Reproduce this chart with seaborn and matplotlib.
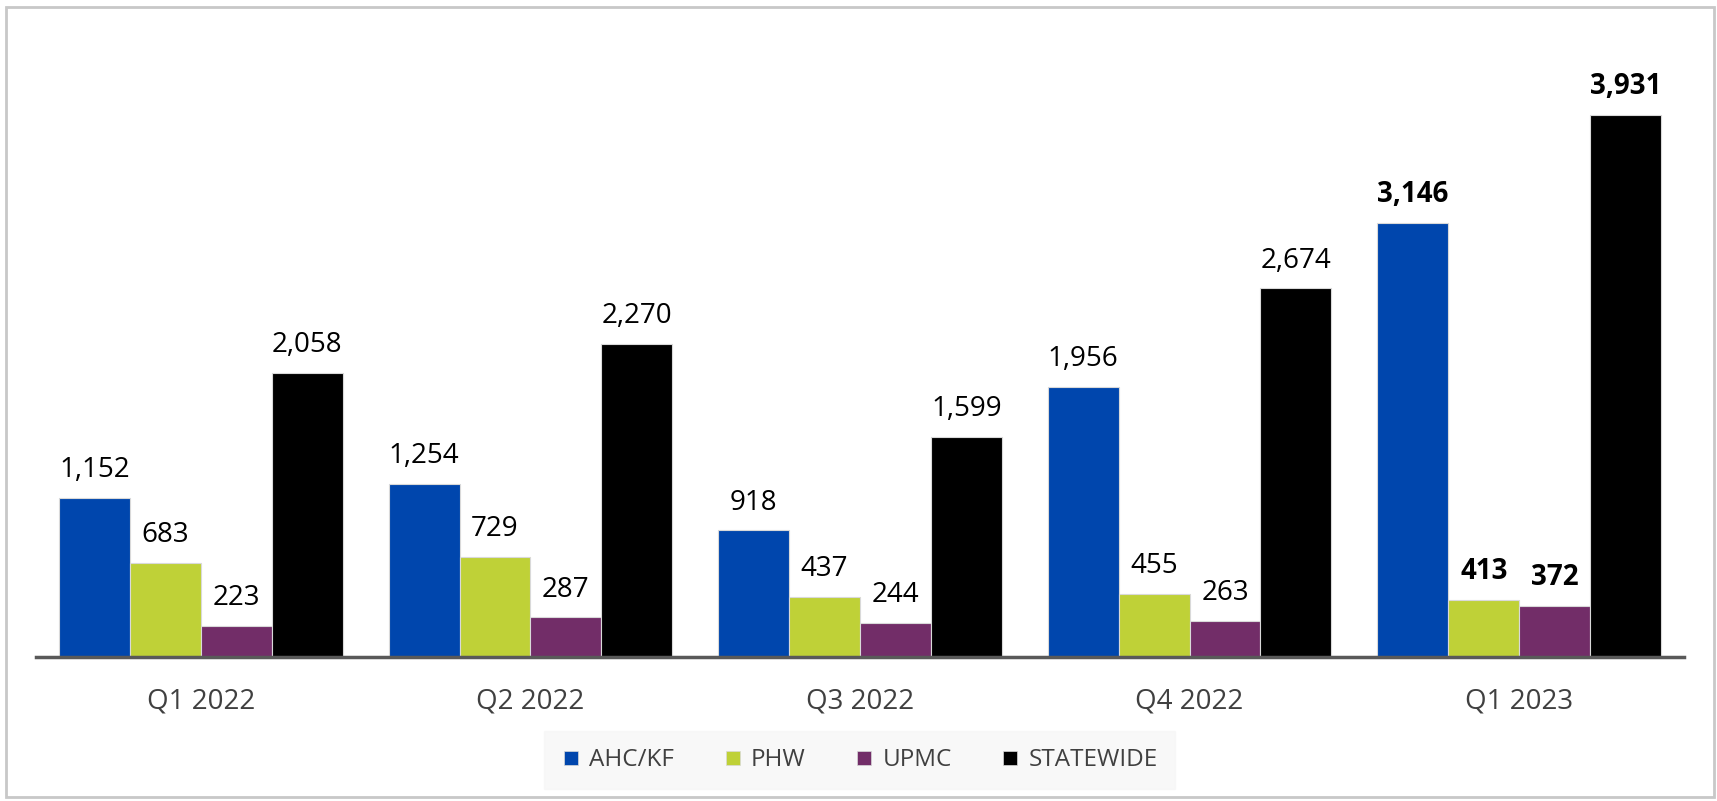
import matplotlib
matplotlib.use("Agg")
import matplotlib.pyplot as plt
import seaborn as sns
import pandas as pd
from matplotlib.patches import Rectangle
from matplotlib.lines import Line2D

quarters = ["Q1 2022", "Q2 2022", "Q3 2022", "Q4 2022", "Q1 2023"]
series = ["AHC/KF", "PHW", "UPMC", "STATEWIDE"]
ahc = [1152, 1254, 918, 1956, 3146]
phw = [683, 729, 437, 455, 413]
upmc = [223, 287, 244, 263, 372]
statewide = [2058, 2270, 1599, 2674, 3931]
colors = ["#0046AD", "#BFD137", "#722D68", "#000000"]

rows = []
for name, vals in zip(series, [ahc, phw, upmc, statewide]):
    for q, v in zip(quarters, vals):
        rows.append({"Quarter": q, "Plan": name, "Value": v})
df = pd.DataFrame(rows)

sns.set_theme(style="white")
plt.rcParams["font.family"] = ["Open Sans", "DejaVu Sans"]

fig = plt.figure(figsize=(17.17, 8.01), dpi=100)
ax = fig.add_axes([36/1717, 1-657/801, (1684-36)/1717, 0.74])

sns.barplot(data=df, x="Quarter", y="Value", hue="Plan", order=quarters,
            hue_order=series, palette=colors, width=0.86, ax=ax,
            edgecolor="#d9d9d9", linewidth=0.8, saturation=1, legend=False)

ax.set_ylim(0, 4300)
ax.set_xlim(-0.5, 4.5)
ax.set_xlabel("")
ax.set_ylabel("")
ax.set_yticks([])
for s in ["top", "right", "left"]:
    ax.spines[s].set_visible(False)
ax.spines["bottom"].set_color("#595959")
ax.spines["bottom"].set_linewidth(2.5)
ax.tick_params(axis="x", length=0, pad=22, labelsize=20, labelcolor="#404040")

for cont in ax.containers:
    texts = ax.bar_label(cont, labels=[f"{v:,.0f}" for v in cont.datavalues],
                         padding=10, fontsize=20, color="black")
    texts[-1].set_fontweight("bold")

handles = [Line2D([0], [0], marker="s", linestyle="", markersize=10,
                  markerfacecolor=c, markeredgecolor="#d9d9d9", markeredgewidth=0.5)
           for c in colors]
leg = fig.legend(handles, series, loc="center", bbox_to_anchor=(0.5006, 0.051),
                 ncol=4, frameon=True, fontsize=17.5, handlelength=0.8,
                 handletextpad=0.36, columnspacing=2.0, borderpad=0.7,
                 fancybox=False)
leg.get_frame().set_facecolor("#f7f7f7")
leg.get_frame().set_edgecolor("#f7f7f7")
for t in leg.get_texts():
    t.set_color("#404040")

fig.patches.append(Rectangle((6/1717, 4/801), (1714-6)/1717, (794-4)/801,
                             transform=fig.transFigure, fill=False,
                             edgecolor="#c8c8c8", linewidth=2))

fig.savefig("out.png", dpi=100, facecolor="white")
